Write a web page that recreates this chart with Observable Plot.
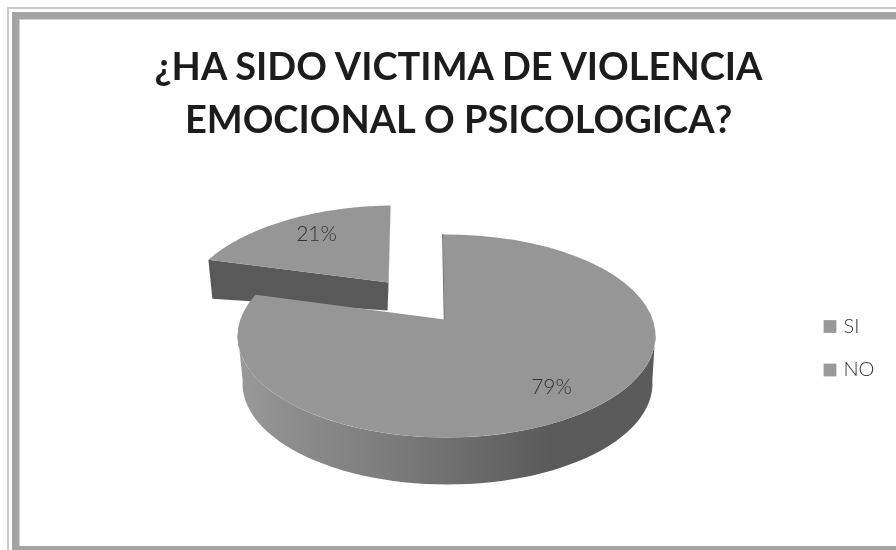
<!DOCTYPE html>
<html lang="es">
<head>
<meta charset="utf-8">
<script src="https://cdn.jsdelivr.net/npm/d3@7"></script>
<script src="https://cdn.jsdelivr.net/npm/@observablehq/plot@0.6"></script>
<style>
html,body{margin:0;padding:0;background:#fff;overflow:hidden;width:896px;height:550px}
#chart{position:absolute;left:0;top:0;width:896px;height:550px}
.f{position:absolute;box-sizing:border-box}
#outer{left:7px;top:7px;width:889px;height:543px;border-left:2px solid #c9c9c9;border-top:2px solid #c9c9c9}
#mid{left:12px;top:12px;width:884px;height:538px;border-left:7px solid #a3a3a3;border-top:7px solid #a3a3a3;border-bottom:4px solid #a3a3a3}
#inner{left:19px;top:19px;width:877px;height:527px;border-left:1px solid #d0d0d0;border-top:1px solid #d0d0d0}
svg{position:absolute;left:0;top:0;filter:blur(.4px)}
</style>
</head>
<body>
<div id="chart">
<div class="f" id="outer"></div><div class="f" id="mid"></div><div class="f" id="inner"></div>
</div>
<script>
const categories = ["SI", "NO"];
const shares = [79, 21];
const shareLabels = ["79%", "21%"];
const titleLines = ["¿HA SIDO VICTIMA DE VIOLENCIA", "EMOCIONAL O PSICOLOGICA?"];

// Projection of the tilted, exploded 3D pie onto the page
const rad = d => d * Math.PI / 180;
const ell = (e, a) => [e.cx + e.rx * Math.sin(rad(a)), e.cy - e.ry * Math.cos(rad(a))];
const bigTop = {cx: 446, cy: 335.5, rx: 209, ry: 101.5};
const bigBottom = {cx: 447, cy: 383, rx: 205, ry: 101};
const smallTop = {cx: 395, cy: 312, rx: 215, ry: 107};
const bigApex = [444, 319];
const smallApex = [388, 282];
const smallApexLow = [387, 310];
const stretch = [295 / (0.79 * 360), 59.2 / (0.21 * 360)];
const total = d3.sum(shares);
const bigStart = -1;
const bigEnd = bigStart + shares[0] / total * 360 * stretch[0];
const smallEnd = -1.3;
const smallStart = smallEnd - shares[1] / total * 360 * stretch[1];

const arc = (e, a0, a1) => d3.range(0, 61).map(i => ell(e, a0 + (a1 - a0) * i / 60));
const poly = (id, pts) => pts.map(([x, y]) => ({id, x, y}));

const bigFace = poly("bigFace", [bigApex, ...arc(bigTop, bigStart, bigEnd)]);
const bigWall = poly("bigWall", [...arc(bigTop, 88, 272), ...arc(bigBottom, 272, 88)]);
const smallFace = poly("smallFace", [smallApex, ...arc(smallTop, smallStart, smallEnd)]);
const cornerL = ell(smallTop, smallStart);
const smallWall = poly("smallWall", [cornerL, smallApex, smallApexLow, [cornerL[0] + 4, cornerL[1] + 39]]);
const smallCut = poly("smallCut", [ell(smallTop, smallEnd), smallApex, smallApexLow]);
const bigCut = poly("bigCut", [ell(bigTop, bigStart), bigApex]);

const title = titleLines.map((t, i) => ({t, y: 67 + i * 53}));
const pctLabels = [{t: shareLabels[1], x: 316, y: 234}, {t: shareLabels[0], x: 551, y: 387}];
const legend = categories.map((c, i) => ({c, y: 326 + i * 43.5}));

const defs = () => {
  const d = d3.create("svg:defs");
  const g = d.append("linearGradient").attr("id", "wall").attr("x1", 0).attr("x2", 1).attr("y1", 0).attr("y2", 0);
  [[0, "#999"], [.12, "#8e8e8e"], [.35, "#7d7d7d"], [.55, "#6c6c6c"], [.75, "#5a5a5a"], [1, "#5b5b5b"]]
    .forEach(([o, c]) => g.append("stop").attr("offset", o).attr("stop-color", c));
  return d.node();
};

const face = "#969696";
const plot = Plot.plot({
  width: 896, height: 550, margin: 0,
  style: {background: "transparent", fontFamily: "Lato, sans-serif"},
  x: {domain: [0, 896], range: [0, 896], axis: null},
  y: {domain: [0, 550], range: [0, 550], axis: null},
  marks: [
    defs,
    Plot.line(smallWall, {x: "x", y: "y", fill: "#595959", stroke: "none"}),
    Plot.line(smallCut, {x: "x", y: "y", fill: "#6e6e6e", stroke: "none"}),
    Plot.line(smallFace, {x: "x", y: "y", fill: face, stroke: "none"}),
    Plot.line(bigWall, {x: "x", y: "y", fill: "url(#wall)", stroke: "none"}),
    Plot.line(bigCut, {x: "x", y: "y", stroke: "#6a6a6a", strokeWidth: 1.5}),
    Plot.line(bigFace, {x: "x", y: "y", fill: face, stroke: "none"}),
    Plot.text(pctLabels, {x: "x", y: "y", text: "t", fontSize: 21, fill: "#333", fontFamily: "Lato, sans-serif", fontWeight: 300}),
    Plot.dot(legend, {x: () => 829.5, y: d => d.y, symbol: "square", r: 7.2, fill: "#999", stroke: "none"}),
    Plot.text(legend, {x: () => 843, y: d => d.y, text: "c", textAnchor: "start", fontSize: 20, fill: "#333", fontFamily: "Lato, sans-serif", fontWeight: 300}),
    Plot.text(title, {x: () => 458, y: "y", text: "t", fontSize: 38, fontWeight: 700, fill: "#1c1c1c", fontFamily: "Lato, sans-serif"})
  ]
});
document.getElementById("chart").appendChild(plot);
</script>
</body>
</html>
